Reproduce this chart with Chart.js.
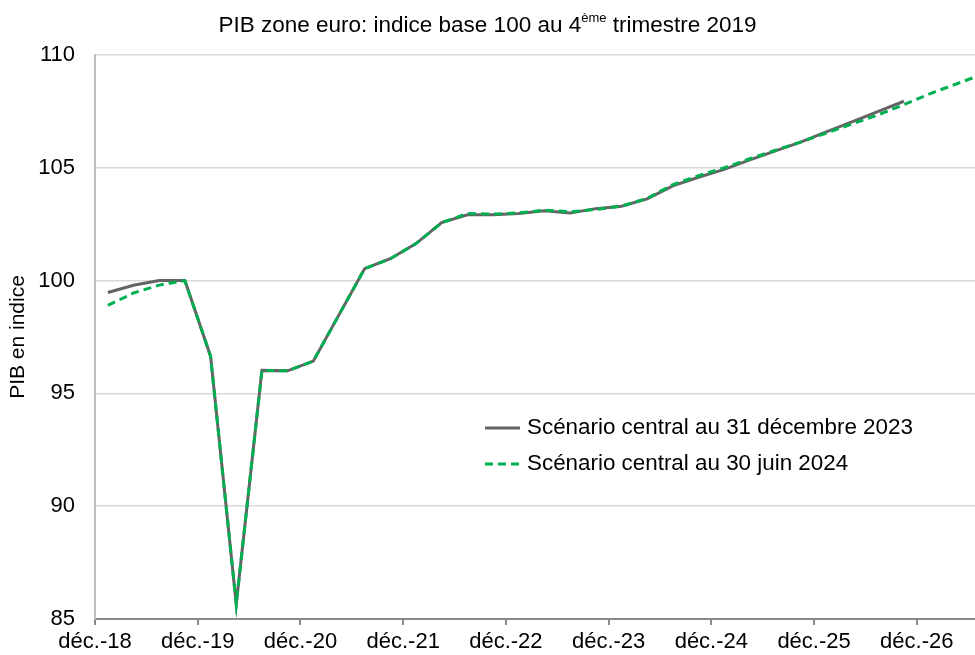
<!DOCTYPE html>
<html lang="fr">
<head>
<meta charset="utf-8">
<title>PIB zone euro</title>
<script src="https://cdn.jsdelivr.net/npm/chart.js@4"></script>
<style>
  html, body { margin: 0; padding: 0; background: #fff; }
  body { font-family: "Liberation Sans", Arial, sans-serif; color: #000; }
  #wrap { position: relative; width: 975px; height: 655px; }
  #title { position: absolute; left: 0; width: 975px; top: 12px; text-align: center; font-size: 22.5px; }
  #title sup { font-size: 13px; vertical-align: 10px; line-height: 0; }
  #legend { position: absolute; left: 485px; top: 413px; font-size: 22.4px; }
  #legend div { height: 36px; line-height: 28px; white-space: nowrap; }
  #legend svg { vertical-align: middle; margin-right: 7px; }
</style>
</head>
<body>
<div id="wrap">
  <canvas id="chart" width="975" height="655"></canvas>
  <div id="title">PIB zone euro: indice base 100 au 4<sup>ème</sup> trimestre 2019</div>
  <div id="legend"></div>
</div>
<script>
// Quarters from T1 2019
const quarters = [
  "T1 2019", "T2 2019", "T3 2019", "T4 2019",
  "T1 2020", "T2 2020", "T3 2020", "T4 2020",
  "T1 2021", "T2 2021", "T3 2021", "T4 2021",
  "T1 2022", "T2 2022", "T3 2022", "T4 2022",
  "T1 2023", "T2 2023", "T3 2023", "T4 2023",
  "T1 2024", "T2 2024", "T3 2024", "T4 2024",
  "T1 2025", "T2 2025", "T3 2025", "T4 2025",
  "T1 2026", "T2 2026", "T3 2026", "T4 2026",
  "T1 2027", "T2 2027", "T3 2027"
];

// Scénario central au 31 décembre 2023
const scenarioDec23 = [
  99.47, 99.79, 100.0, 100.0,
  96.65, 85.66, 96.02, 96.0,
  96.43, 98.48, 100.53, 100.97,
  101.64, 102.57, 102.92, 102.92,
  102.97, 103.1, 103.0, 103.19,
  103.3, 103.62, 104.2, 104.58,
  104.93, 105.35, 105.75, 106.15,
  106.6, 107.05, 107.5, 107.95
];

// Scénario central au 30 juin 2024
const scenarioJun24 = [
  98.9, 99.45, 99.8, 100.0,
  96.65, 85.66, 96.02, 96.0,
  96.43, 98.48, 100.53, 100.97,
  101.64, 102.57, 102.97, 102.95,
  103.0, 103.12, 103.05, 103.15,
  103.3, 103.65, 104.25, 104.65,
  105.0, 105.4, 105.78, 106.15,
  106.55, 106.95, 107.35, 107.8,
  108.28, 108.7, 109.12
];

const xTickLabels = ["déc.-18", "déc.-19", "déc.-20", "déc.-21", "déc.-22", "déc.-23", "déc.-24", "déc.-25", "déc.-26"];
const yTicks = [85, 90, 95, 100, 105, 110];

const seriesNames = ["Scénario central au 31 décembre 2023", "Scénario central au 30 juin 2024"];
const GREY = "#646464";
const GREEN = "#00b050";

// x in months after déc.-18, each quarter sits mid-quarter
function toPoints(values) {
  return values.map((v, i) => ({ x: 1.5 + 3 * i, y: v, q: quarters[i] }));
}

const font = { family: '"Liberation Sans", Arial, sans-serif', size: 22 };

new Chart(document.getElementById("chart"), {
  type: "line",
  data: {
    datasets: [
      {
        label: seriesNames[1],
        data: toPoints(scenarioJun24),
        borderColor: GREEN,
        borderWidth: 3,
        borderDash: [8, 5],
        pointRadius: 0,
        tension: 0,
        order: 0
      },
      {
        label: seriesNames[0],
        data: toPoints(scenarioDec23),
        borderColor: GREY,
        borderWidth: 3,
        pointRadius: 0,
        tension: 0,
        order: 1
      }
    ]
  },
  options: {
    responsive: false,
    animation: false,
    layout: { padding: { top: 55, right: 0, bottom: 0, left: 0 } },
    plugins: {
      legend: { display: false },
      title: { display: false },
      tooltip: { enabled: false }
    },
    scales: {
      x: {
        type: "linear",
        min: 0,
        max: 102.8,
        border: { color: "#8a8a8a", width: 2 },
        grid: { drawOnChartArea: false, drawTicks: true, tickLength: 6, color: "#8a8a8a", lineWidth: 2 },
        ticks: {
          stepSize: 12,
          includeBounds: false,
          autoSkip: false,
          maxRotation: 0,
          padding: 4,
          color: "#000",
          font: font,
          callback: (v) => (v % 12 === 0 ? xTickLabels[v / 12] : "")
        },
        afterFit: (s) => { s.height = 36; }
      },
      y: {
        min: yTicks[0],
        max: yTicks[yTicks.length - 1],
        border: { color: "#bfbfbf", width: 2 },
        grid: { color: "#d9d9d9", lineWidth: 1.5, drawTicks: false },
        afterBuildTicks: (s) => { s.ticks = yTicks.map((v) => ({ value: v })); },
        ticks: { padding: 20, color: "#000", font: font },
        title: {
          display: true,
          text: "PIB en indice",
          color: "#000",
          font: { family: font.family, size: 21 },
          padding: { top: 6, bottom: 0 }
        },
        afterFit: (s) => { s.width = 95; }
      }
    }
  }
});

// legend (same order as reference)
const legend = document.getElementById("legend");
legend.innerHTML =
  '<div><svg width="35" height="6"><line x1="0" y1="3" x2="35" y2="3" stroke="' + GREY + '" stroke-width="3"/></svg>' + seriesNames[0] + '</div>' +
  '<div><svg width="35" height="6"><line x1="0" y1="3" x2="35" y2="3" stroke="' + GREEN + '" stroke-width="3" stroke-dasharray="8 5"/></svg>' + seriesNames[1] + '</div>';
</script>
</body>
</html>
